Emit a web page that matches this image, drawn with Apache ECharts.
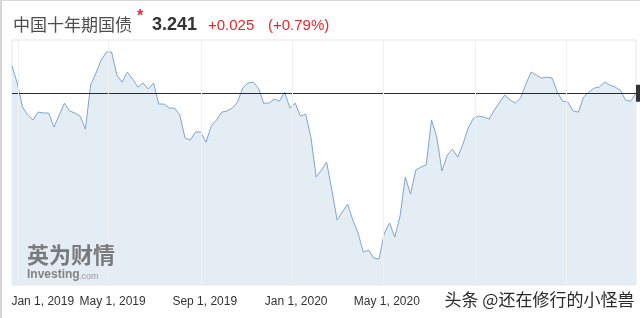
<!DOCTYPE html>
<html>
<head>
<meta charset="utf-8">
<script src="https://cdn.jsdelivr.net/npm/echarts@6/dist/echarts.min.js"></script>
<style>
html,body{margin:0;padding:0;background:#fff;}
#chart{width:640px;height:318px;}
</style>
</head>
<body>
<div id="chart"></div>
<script>
// Weekly yield values (China 10Y government bond), first week starting 2018-12-23
var startDate = [2018, 11, 23];
var yieldValues = [
  3.362, 3.286, 3.179, 3.143, 3.121, 3.156, 3.152, 3.152, 3.089, 3.143,
  3.196, 3.161, 3.152, 3.138, 3.080, 3.277, 3.330, 3.388, 3.424, 3.424,
  3.321, 3.290, 3.335, 3.304, 3.268, 3.286, 3.259, 3.286, 3.192, 3.192,
  3.174, 3.174, 3.143, 3.040, 3.031, 3.067, 3.067, 3.022, 3.094, 3.121,
  3.156, 3.161, 3.174, 3.201, 3.263, 3.286, 3.290, 3.263, 3.196, 3.196,
  3.214, 3.205, 3.245, 3.174, 3.196, 3.138, 3.147, 3.045, 2.866, 2.897,
  2.933, 2.808, 2.674, 2.710, 2.745, 2.674, 2.616, 2.531, 2.540, 2.504,
  2.500, 2.616, 2.661, 2.598, 2.692, 2.866, 2.790, 2.897, 2.911, 2.920,
  3.121, 3.045, 2.893, 2.964, 2.991, 2.955, 3.013, 3.085, 3.129, 3.138,
  3.134, 3.125, 3.165, 3.201, 3.232, 3.210, 3.196, 3.219, 3.281, 3.335,
  3.321, 3.308, 3.312, 3.308, 3.245, 3.205, 3.201, 3.161, 3.156, 3.223,
  3.245, 3.263, 3.268, 3.290, 3.277, 3.268, 3.254, 3.210, 3.205, 3.241
];
var tickDates = ['2019-01-01', '2019-05-01', '2019-09-01', '2020-01-01', '2020-05-01', '2020-09-01', '2021-01-01'];
var tickLabels = ['Jan 1, 2019', 'May 1, 2019', 'Sep 1, 2019', 'Jan 1, 2020', 'May 1, 2020', '', ''];
var lastPrice = 3.241;
var titleName = '中国十年期国债';
var priceText = '3.241';
var changeText = '+0.025';
var changePctText = '(+0.79%)';

function toTime(s) {
  var p = s.split('-');
  return new Date(+p[0], +p[1] - 1, +p[2]).getTime();
}
var seriesData = yieldValues.map(function (v, i) {
  return [new Date(startDate[0], startDate[1], startDate[2] + 7 * i).getTime(), v];
});
var tickTimes = tickDates.map(toTime);

var chart = echarts.init(document.getElementById('chart'), null, {renderer: 'canvas'});
chart.setOption({
  animation: false,
  backgroundColor: '#fff',
  grid: {left: 12, right: 4, top: 40, bottom: 33, show: true, borderColor: '#e3e6ea', borderWidth: 1},
  xAxis: {
    type: 'value',
    min: seriesData[0][0],
    max: seriesData[seriesData.length - 1][0],
    axisLine: {show: false},
    axisTick: {show: false, customValues: tickTimes},
    splitLine: {show: false},
    axisLabel: {
      customValues: tickTimes,
      margin: 11,
      fontSize: 12,
      fontFamily: 'Liberation Sans, Arial, sans-serif',
      color: '#333',
      formatter: function (val) {
        var idx = tickTimes.indexOf(val);
        if (idx < 0) return '';
        if (idx === 0) return '{first|' + tickLabels[idx] + '}';
        return '{oth|' + tickLabels[idx] + '}';
      },
      rich: {
        first: {padding: [0, 0, 0, 48], fontSize: 12, color: '#333', fontFamily: 'Liberation Sans, Arial, sans-serif'},
        oth: {padding: [0, 0, 0, 8], fontSize: 12, color: '#333', fontFamily: 'Liberation Sans, Arial, sans-serif'}
      }
    }
  },
  yAxis: {
    type: 'value',
    min: 2.384,
    max: 3.478,
    axisLine: {show: false},
    axisTick: {show: false},
    axisLabel: {show: false},
    splitLine: {show: false}
  },
  series: [{
    type: 'line',
    data: seriesData,
    symbol: 'none',
    lineStyle: {color: '#80a6cf', width: 1},
    areaStyle: {color: '#e4ecf4', opacity: 1},
    markLine: {
      silent: true,
      symbol: ['none', 'none'],
      data: [{yAxis: lastPrice}],
      lineStyle: {color: '#2b2b2b', width: 1.2, type: 'solid'},
      label: {
        show: true,
        position: 'end',
        distance: 0,
        formatter: priceText,
        backgroundColor: '#333',
        color: '#fff',
        padding: [3, 4],
        fontSize: 11
      }
    }
  }, {
    type: 'line',
    data: [],
    markLine: {
      silent: true,
      symbol: ['none', 'none'],
      data: tickTimes.map(function (t) { return {xAxis: t}; }),
      lineStyle: {color: '#eef1f4', width: 1, type: 'solid'},
      label: {show: false}
    },
    z: 1
  }],
  graphic: [
    {type: 'rect', z: 100, shape: {x: 0, y: 0, width: 640, height: 1}, style: {fill: '#d6d6d6'}, silent: true},
    {type: 'rect', z: 100, shape: {x: 0, y: 0, width: 2, height: 318}, style: {fill: '#d6d6d6'}, silent: true},
    {type: 'text', z: 100, left: 13, top: 16, style: {text: titleName, fontSize: 17, fill: '#4d4d4d', fontFamily: 'Noto Sans CJK SC'}},
    {type: 'text', z: 100, left: 137, top: 9, style: {text: '*', fontSize: 16, fill: '#e8262c', fontWeight: 'bold', fontFamily: 'Liberation Sans, Arial'}},
    {type: 'text', z: 100, left: 152, top: 16, style: {text: priceText, fontSize: 18, fill: '#333', fontWeight: 'bold', fontFamily: 'Liberation Sans, Arial'}},
    {type: 'text', z: 100, left: 208, top: 18, style: {text: changeText, fontSize: 15, fill: '#e8262c', fontFamily: 'Liberation Sans, Arial'}},
    {type: 'text', z: 100, left: 268, top: 18, style: {text: changePctText, fontSize: 15, fill: '#e8262c', fontFamily: 'Liberation Sans, Arial'}},
    {type: 'text', z: 100, left: 27, top: 244, style: {text: '英为财情', fontSize: 22, fill: '#666', fontWeight: 'bold', fontFamily: 'Noto Sans CJK SC', opacity: 0.85}},
    {type: 'text', z: 100, left: 27, top: 269, style: {text: 'Investing', fontSize: 12, fill: '#707070', fontWeight: 'bold', fontFamily: 'Liberation Sans, Arial', opacity: 0.85}},
    {type: 'text', z: 100, left: 79, top: 272, style: {text: '.com', fontSize: 9, fill: '#9a9a9a', fontFamily: 'Liberation Sans, Arial'}},
    {type: 'text', z: 100, left: 443, top: 290, style: {text: '头条 @还在修行的小怪兽', fontSize: 17, fill: '#2a2a2a', fontFamily: 'Noto Sans CJK SC', stroke: '#ffffff', lineWidth: 3}}
  ]
});
</script>
</body>
</html>
